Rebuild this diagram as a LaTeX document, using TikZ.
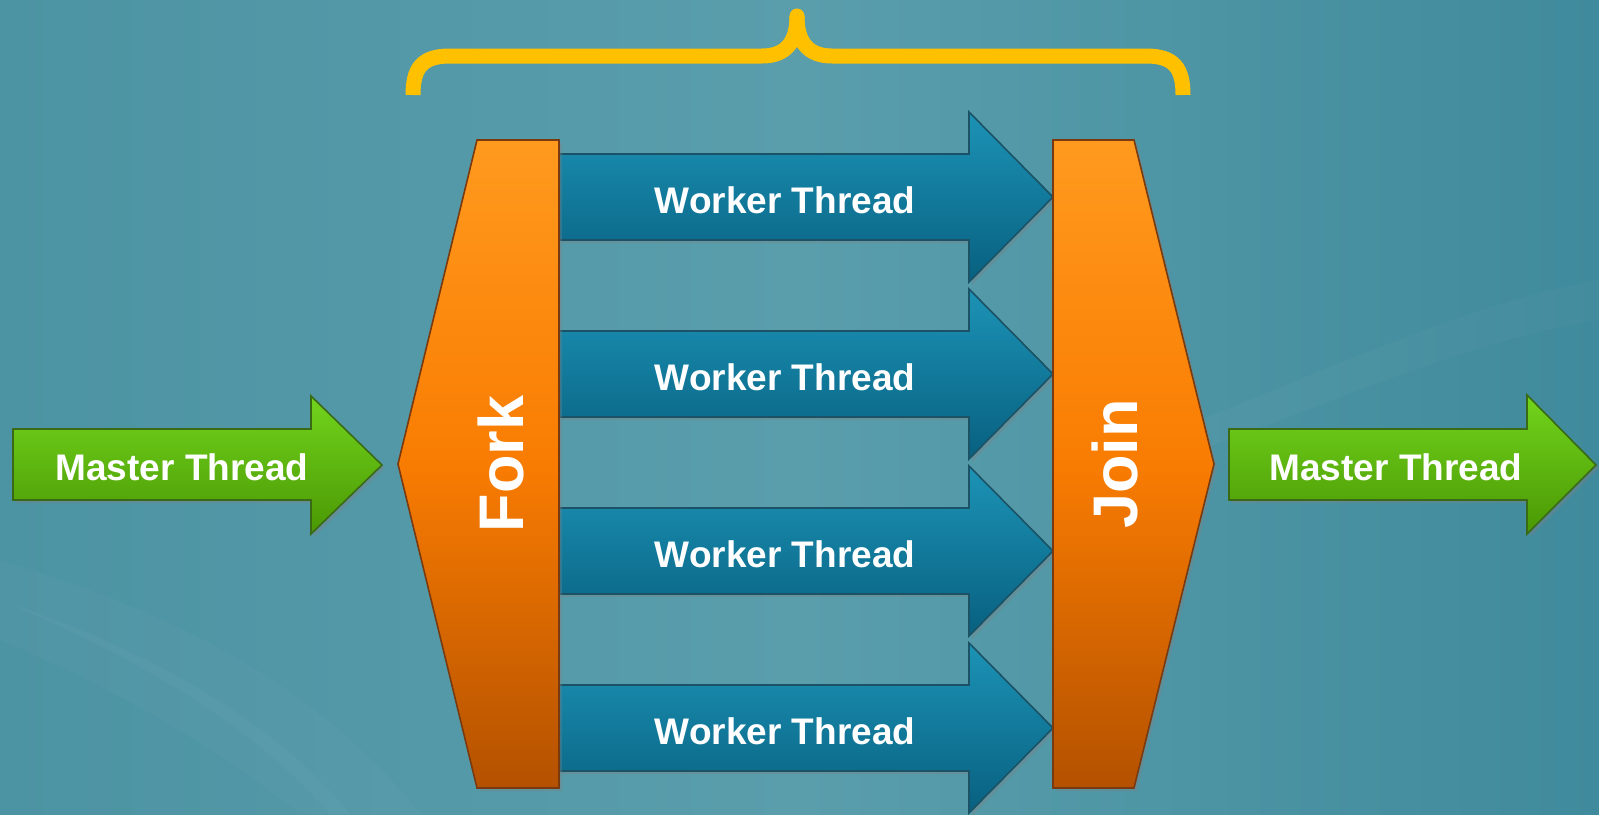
\documentclass[tikz,border=0pt]{standalone}
\usepackage{fontspec}
\setmainfont{Liberation Sans}
\usetikzlibrary{shadows}
\definecolor{bgL}{HTML}{4C93A3}
\definecolor{bgM}{HTML}{5A9EAC}
\definecolor{bgR}{HTML}{3F8A9C}
\definecolor{braceC}{HTML}{FFC000}
\definecolor{orT}{HTML}{FF9A1E}
\definecolor{orM}{HTML}{F97C02}
\definecolor{orB}{HTML}{B45100}
\definecolor{orLine}{HTML}{7A3A10}
\definecolor{wkT}{HTML}{1C93B6}
\definecolor{wkB}{HTML}{086080}
\definecolor{wkLine}{HTML}{1B5266}
\definecolor{grT}{HTML}{72D41C}
\definecolor{grB}{HTML}{4A9804}
\definecolor{grLine}{HTML}{3B6A16}
\tikzset{
  shd/.style={drop shadow={opacity=0.35, shadow xshift=1.5pt, shadow yshift=-1.5pt}},
  orshape/.style={draw=orLine, line width=0.8pt, top color=orT, bottom color=orB, middle color=orM, shd},
  wkshape/.style={draw=wkLine, line width=0.8pt, top color=wkT, bottom color=wkB, shd},
  grshape/.style={draw=grLine, line width=0.8pt, top color=grT, bottom color=grB, shd},
  lbl/.style={text=white, font=\fontsize{18.5}{20}\selectfont\bfseries, inner sep=0pt},
  biglbl/.style={text=white, font=\fontsize{31.5}{34}\selectfont\bfseries, inner sep=0pt, rotate=90},
}
\begin{document}
\begin{tikzpicture}[x=0.5pt,y=-0.5pt]
\useasboundingbox (0,0) rectangle (1599,814);
% background
\shade[left color=bgL, right color=bgR, middle color=bgM] (0,0) rectangle (1599,814);
\fill[white, opacity=0.025] (0,560) .. controls (200,620) and (330,700) .. (420,814) -- (330,814) .. controls (250,720) and (120,650) .. (0,600) -- cycle;
\fill[white, opacity=0.025] (0,600) .. controls (180,660) and (290,740) .. (350,814) -- (300,814) .. controls (220,750) and (120,690) .. (0,640) -- cycle;
\fill[white, opacity=0.025] (1200,420) .. controls (1350,360) and (1480,300) .. (1599,280) -- (1599,320) .. controls (1470,340) and (1340,400) .. (1200,450) -- cycle;
% brace
\draw[braceC, line width=7.5pt, line cap=butt]
  (413,95) .. controls (413,68) and (422,56) .. (450,56) -- (762,56)
  .. controls (786,56) and (797,42) .. (797,16);
\draw[braceC, line width=7.5pt, line cap=butt]
  (1183,95) .. controls (1183,68) and (1174,56) .. (1146,56) -- (832,56)
  .. controls (808,56) and (797,42) .. (797,16);
\fill[braceC] (797,16) circle (3.75pt);
% worker arrows
\foreach \c/\n in {197/1,374/2,551/3,728/4}{
  \path[wkshape] (559,\c-43) -- (969,\c-43) -- (969,\c-85) -- (1053,\c) -- (969,\c+85) -- (969,\c+43) -- (559,\c+43) -- cycle;
  \node[lbl] (w\n) at (785,\c+3) {Worker Thread};
}
% fork and join
\path[orshape] (477,140) -- (559,140) -- (559,788) -- (477,788) -- (398,464) -- cycle;
\node[biglbl] (fork) at (501,464) {Fork};
\path[orshape] (1053,140) -- (1134,140) -- (1214,464) -- (1134,788) -- (1053,788) -- cycle;
\node[biglbl] (join) at (1115,464) {Join};
% master arrows
\path[grshape] (13,429) -- (311,429) -- (311,396) -- (382,465) -- (311,534) -- (311,500) -- (13,500) -- cycle;
\node[lbl] (m1) at (182,467) {Master Thread};
\path[grshape] (1229,429) -- (1527,429) -- (1527,395) -- (1596,465) -- (1527,534) -- (1527,500) -- (1229,500) -- cycle;
\node[lbl] (m2) at (1396,467) {Master Thread};
\end{tikzpicture}
\end{document}
